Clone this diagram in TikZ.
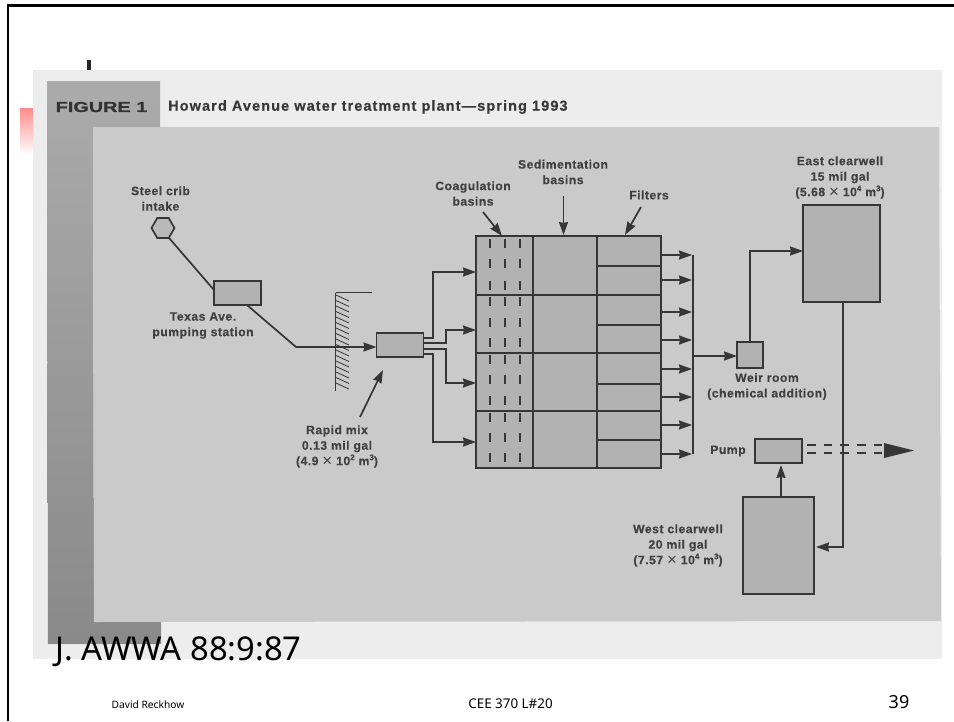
\documentclass[tikz,border=0pt]{standalone}
\usepackage{fontspec}
\setmainfont{Liberation Sans}
\newfontfamily\figfont[LetterSpace=4,BoldFeatures={FakeBold=0.3}]{Liberation Sans}
\newfontfamily\titlefont[LetterSpace=7.5,BoldFeatures={FakeBold=0.4}]{Liberation Sans}
\newfontfamily\heavyfont[BoldFeatures={FakeBold=0.8}]{Liberation Sans}
\newfontfamily\slidefont{Noto Sans}
\usetikzlibrary{arrows.meta,shapes.geometric}
\definecolor{ink}{HTML}{363636}
\definecolor{txt}{HTML}{404040}
\definecolor{panel}{HTML}{CACACA}
\definecolor{paper}{HTML}{EDEDED}
\definecolor{boxfill}{HTML}{B2B2B2}
\newcommand{\sups}[1]{\raisebox{5pt}{\fontsize{8}{8}\selectfont #1}}
\newcommand{\tms}{{\mdseries\fontsize{17}{17}\selectfont\raisebox{-1.5pt}{×}}}
\tikzset{
  plantbox/.style={draw=ink,line width=1.8pt,fill=boxfill,inner sep=0pt,outer sep=0pt},
  pipe/.style={draw=ink,line width=1.7pt},
  thin pipe/.style={draw=ink,line width=1.3pt},
  flow/.style={pipe,-{Stealth[length=13pt,width=9pt,inset=1pt]}},
  lbl/.style={font=\figfont\bfseries\fontsize{12.2}{15.5}\selectfont,text=txt,align=center,inner sep=0pt},
  slide/.style={font=\slidefont,text=black,inner sep=0pt,anchor=base}
}
\begin{document}
\begin{tikzpicture}[x=1pt,y=-1pt]
\useasboundingbox (0,0) rectangle (954,721);
\fill[white] (0,0) rectangle (954,721);
% slide furniture
\draw[black,line width=2.4pt] (8,721) -- (8,5.5) -- (954,5.5);
\fill[black!85] (87,60) rectangle (91,71);
\shade[top color=red!45,bottom color=white] (20,108) rectangle (34,155);
% photo
\fill[paper] (33,70) rectangle (942,659);
\shade[top color=black!33,bottom color=black!46] (47,81) -- (160,81) -- (160,127) -- (93,127) -- (94,622) -- (161,622) -- (161,644) -- (48,644) -- cycle;
\fill[panel] (93,127) -- (939,127) -- (941,621) -- (94,622) -- cycle;
% title
\node[font=\heavyfont\bfseries\fontsize{14.5}{15}\selectfont,text=black!80,inner sep=0pt] (figlabel) at (101.5,107) {\scalebox{1.37}[1]{FIGURE 1}};
\node[font=\titlefont\bfseries\fontsize{14.5}{15}\selectfont,text=black!78,inner sep=0pt,anchor=west] (figtitle) at (168,107) {Howard Avenue water treatment plant—spring 1993};
% nodes
\node[regular polygon,regular polygon sides=6,draw=ink,line width=1.7pt,fill=boxfill!70!panel,minimum size=23pt,inner sep=0pt,outer sep=0pt] (intake) at (163,228) {};
\node[plantbox,minimum width=47pt,minimum height=24pt] (texas) at (237.5,293) {};
\node[plantbox,minimum width=47pt,minimum height=24pt] (mix) at (400,345) {};
\node[plantbox,minimum width=185pt,minimum height=232pt] (basin) at (568.5,352) {};
\node[plantbox,minimum width=26pt,minimum height=26pt] (weir) at (750,355) {};
\node[plantbox,minimum width=77pt,minimum height=97pt] (east) at (841.5,253.5) {};
\node[plantbox,minimum width=47pt,minimum height=24pt] (pump) at (778.5,451) {};
\node[plantbox,minimum width=71pt,minimum height=97pt] (west) at (778.5,545.5) {};
% basin interior
\draw[thin pipe] (533,236) -- (533,468) (597,236) -- (597,468);
\foreach \y in {295,353,411} \draw[thin pipe] (basin.west |- 0,\y) -- (basin.east |- 0,\y);
\foreach \y in {266,325,384,440} \draw[thin pipe] (597,\y) -- (basin.east |- 0,\y);
\foreach \x in {490,505,520}
  \foreach \y in {239,259,281,297,318,338,355,375,396,413,433,453}
    \draw[draw=ink,line width=1.1pt] (\x,\y) -- (\x,\y+9);
% wall
\draw[draw=ink,line width=0.9pt] (335.5,292.5) -- (372,292.5);
\draw[draw=ink,line width=1.4pt] (335.5,292.5) -- (335.5,391);
\foreach \y in {295,300.5,...,385} \draw[draw=ink,line width=0.8pt] (336,\y) -- (349,\y+6);
% connectors
\coordinate (j1) at (296,347);
\draw[pipe] (intake.south) ++(6,0) -- (214,290);
\draw[flow] (247,305) -- (j1) -- (mix.west |- j1);
\coordinate (a1) at (433,272);
\coordinate (a2) at (446,330);
\coordinate (a3) at (446,383);
\coordinate (a4) at (433,442);
\draw[flow] (mix.east |- 0,338) -- (433,338) -- (a1) -- (basin.west |- a1);
\draw[flow] (mix.east |- 0,343) -- (446,343) -- (a2) -- (basin.west |- a2);
\draw[flow] (mix.east |- 0,349) -- (446,349) -- (a3) -- (basin.west |- a3);
\draw[flow] (mix.east |- 0,354) -- (433,354) -- (a4) -- (basin.west |- a4);
\foreach \y in {255,280,312,340,369,397,425,454}
  \draw[flow] (basin.east |- 0,\y) -- (692,\y);
\coordinate (coltop) at (692.7,255);
\coordinate (colbot) at (692.7,454);
\draw[pipe] (coltop) -- (colbot);
\draw[flow] (692.7,356) -- (weir.west |- 0,356);
\coordinate (up) at (750,251);
\draw[flow] (weir.north) -- (up) -- (east.west |- up);
\coordinate (down) at (843,547);
\draw[flow] (east.south -| down) -- (down) -- (816,547);
\draw[flow] (781,497) -- (781,465);
\draw[draw=ink,line width=1.5pt,dash pattern=on 8.5pt off 8.2pt] (807,445) -- (885,445) (807,453) -- (885,453);
\coordinate (outtip) at (914,450.5);
\fill[ink] (884,443) -- (outtip) -- (884,458) -- cycle;
% labels with arrows
\coordinate (ca) at (483,212);
\coordinate (sa) at (563.5,196);
\coordinate (fa) at (641,207);
\coordinate (ra) at (360,417);
\draw[flow] (ca) -- (502,236);
\draw[flow] (sa) -- (563.5,235);
\draw[flow] (fa) -- (625,235);
\draw[flow] (ra) -- (383,370);
\node[lbl] (l1) at (160.5,198.5) {Steel crib\\intake};
\node[lbl] (l2) at (203,325.5) {Texas Ave.\\pumping station};
\node[lbl] (l3) at (473,193.5) {Coagulation\\basins};
\node[lbl] (l4) at (563,172) {Sedimentation\\basins};
\node[lbl] (l5) at (649,195) {Filters};
\node[lbl] (l6) at (337,446.5) {Rapid mix\\0.13 mil gal\\(4.9 \tms{} 10\sups{2} m\sups{3})};
\node[lbl] (l7) at (840,177.5) {East clearwell\\15 mil gal\\(5.68 \tms{} 10\sups{4} m\sups{3})};
\node[lbl] (l8) at (767,386.5) {Weir room\\(chemical addition)};
\node[lbl] (l9) at (728,451) {Pump};
\node[lbl] (l10) at (678,545.5) {West clearwell\\20 mil gal\\(7.57 \tms{} 10\sups{4} m\sups{3})};
% slide text
\node[slide,font=\slidefont\fontsize{32.8}{33}\selectfont,anchor=base west] (cite) at (55,660) {J. AWWA 88:9:87};
\node[slide,font=\slidefont\fontsize{10.2}{10}\selectfont] (f1) at (148,708.5) {David Reckhow};
\node[slide,font=\slidefont\fontsize{13.4}{13}\selectfont] (f2) at (510.5,708.5) {CEE 370 L\#20};
\node[slide,font=\slidefont\fontsize{18}{18}\selectfont] (f3) at (899,708) {39};
\end{tikzpicture}
\end{document}
